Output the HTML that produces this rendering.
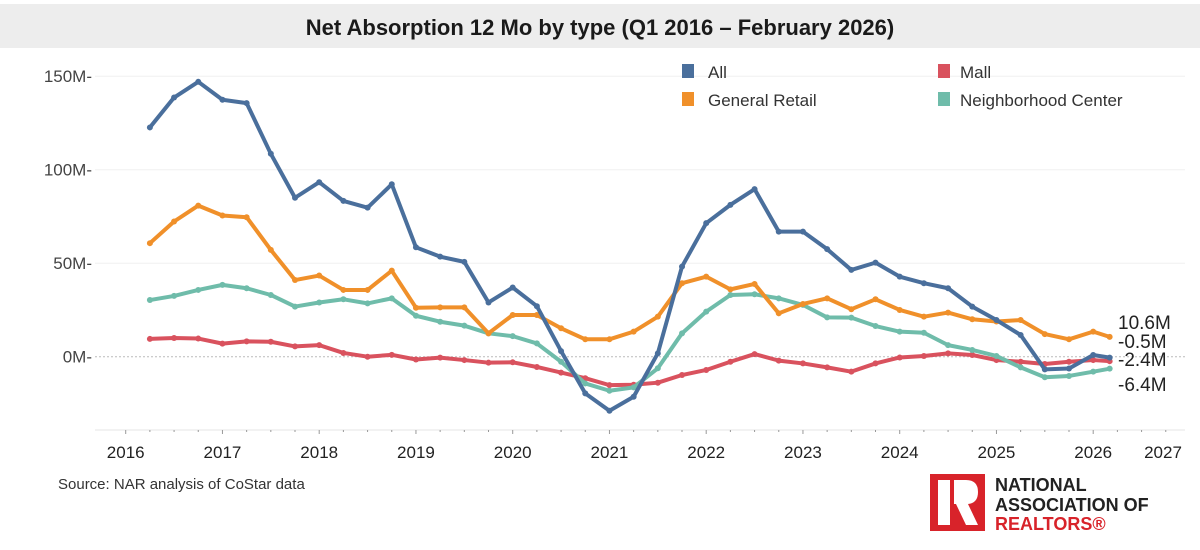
<!DOCTYPE html>
<html><head><meta charset="utf-8"><style>
body{margin:0;background:#fff;width:1200px;height:550px;overflow:hidden;font-family:"Liberation Sans",sans-serif}
svg{display:block}
</style></head><body>
<svg id="chart" width="1200" height="550">
<rect x="0" y="4" width="1200" height="44" fill="#ededed"/>
<text x="600" y="35" text-anchor="middle" font-size="22" font-weight="bold" fill="#1a1a1a">Net Absorption 12 Mo by type (Q1 2016 – February 2026)</text>
<g id="grid"></g><g id="axes"></g><g id="series"></g>
<g>
<rect x="682" y="64" width="12" height="14" fill="#4a6f9c"/>
<text x="708" y="78" font-size="17" fill="#333">All</text>
<rect x="682" y="92" width="12" height="14" fill="#f0902a"/>
<text x="708" y="106" font-size="17" fill="#333">General Retail</text>
<rect x="938" y="64" width="12" height="14" fill="#d9525e"/>
<text x="960" y="78" font-size="17" fill="#333">Mall</text>
<rect x="938" y="92" width="12" height="14" fill="#6fbcaa"/>
<text x="960" y="106" font-size="17" fill="#333">Neighborhood Center</text>
</g>
<g font-size="19" fill="#222">
<text x="1118" y="329">10.6M</text>
<text x="1118" y="348">-0.5M</text>
<text x="1118" y="366">-2.4M</text>
<text x="1118" y="391">-6.4M</text>
</g>
<text x="58" y="489" font-size="15" fill="#333">Source: NAR analysis of CoStar data</text>
<g>
<rect x="930" y="474" width="55" height="57" fill="#d8232a"/>
<rect x="938" y="480" width="12" height="45" fill="#fff"/>
<path d="M954 480 H966 Q978 480 978 492 Q978 503 968 504 L978 525 H966 L956 504 H954 Z" fill="#fff"/>
<text x="995" y="491" font-size="18" font-weight="bold" fill="#222">NATIONAL</text>
<text x="995" y="511" font-size="18" font-weight="bold" fill="#222">ASSOCIATION OF</text>
<text x="995" y="530" font-size="18" font-weight="bold" fill="#d8232a">REALTORS®</text>
</g>
</svg>
<script>
const ns="http://www.w3.org/2000/svg";
const yTicks=[0,50,100,150];
const yTickLabels=["0M","50M","100M","150M"];
const xYears=[2016,2017,2018,2019,2020,2021,2022,2023,2024,2025,2026];
const dates=[];for(let i=0;i<40;i++)dates.push(2016.25+0.25*i);dates.push(2026.17);
const allVals=[122.6,138.6,147,137.4,135.6,108.5,85,93.3,83.3,79.7,92.2,58.5,53.5,50.7,29,37,27,3,-19.6,-28.9,-21.4,1.8,48.2,71.4,81.2,89.6,66.9,66.9,57.5,46.4,50.3,42.8,39.3,36.6,26.8,19.6,11.6,-6.8,-6.3,0.9,-0.5];
const generalRetail=[60.7,72.3,80.8,75.5,74.6,57.1,41,43.4,35.7,35.7,46,26.2,26.4,26.4,12.5,22.3,22.3,15.2,9.3,9.3,13.4,21.4,39.3,42.8,36,38.9,23.2,28.2,31.2,25.4,30.7,25,21.4,23.6,20,18.8,19.6,12.1,9.3,13.4,10.6];
const mall=[9.5,10,9.7,7,8.2,8,5.5,6.2,2,0,1,-1.5,-0.5,-1.8,-3.2,-3,-5.5,-8.5,-11.5,-15.2,-15,-13.9,-9.8,-7.1,-2.7,1.4,-2.1,-3.6,-5.7,-8,-3.6,-0.4,0.4,1.8,0.9,-1.8,-2.7,-3.9,-2.7,-1.8,-2.4];
const neighborhood=[30.3,32.5,35.7,38.4,36.6,33,26.8,29,30.7,28.5,31.2,21.9,18.7,16.6,12.5,11,7.1,-2.7,-14.3,-18.2,-16.4,-6.2,12.5,24.1,33,33.4,31.2,27.7,21,20.9,16.4,13.4,12.8,6.2,3.6,0.4,-5.7,-11,-10.3,-8,-6.4];
const xs=d=>125.7+(d-2016)*96.75;
const ys=v=>356.7-v*1.87;
function mk(tag,attrs,parent){const e=document.createElementNS(ns,tag);for(const k in attrs)e.setAttribute(k,attrs[k]);parent.appendChild(e);return e;}
const grid=document.getElementById('grid'),axes=document.getElementById('axes'),ser=document.getElementById('series');
yTicks.forEach((t,i)=>{
 const l=mk('line',{x1:95,x2:1185,y1:ys(t),y2:ys(t),stroke:t===0?'#bbb':'#f0f0f0','stroke-width':1,'stroke-dasharray':t===0?'2,2':''},grid);
 
 
 const tx=mk('text',{x:92,y:ys(t)+6,'text-anchor':'end','font-size':17,fill:'#444'},axes);
 tx.textContent=yTickLabels[i]+"-";
 
 
});
const ax=mk('line',{x1:95,x2:1185,y1:430,y2:430,stroke:'#e4e4e4'},axes);


for(let q=2016;q<=2026.75;q+=0.25){const t=mk('line',{x1:xs(q),x2:xs(q),y1:430,y2:q%1===0?434:432,stroke:'#999'},axes);
 
 }
xYears.forEach(y=>{const t=mk('text',{x:xs(y),y:458,'text-anchor':'middle','font-size':17,fill:'#222'},axes);t.textContent=y;
 
 });
const t27=mk('text',{x:1163,y:458,'text-anchor':'middle','font-size':17,fill:'#222'},axes);t27.textContent="2027";


function drawSeries(vals,color,name){
 const g=mk('g',{},ser);
 
 
 const p=mk('polyline',{points:vals.map((v,i)=>xs(dates[i])+','+ys(v)).join(' '),fill:'none',stroke:color,'stroke-width':4,'stroke-linejoin':'round'},g);
 
 
 vals.forEach((v,i)=>{const c=mk('circle',{cx:xs(dates[i]),cy:ys(v),r:3,fill:color},g);
  
  });
}
drawSeries(mall,'#d9525e','series-mall');
drawSeries(neighborhood,'#6fbcaa','series-neighborhood-center');
drawSeries(generalRetail,'#f0902a','series-general-retail');
drawSeries(allVals,'#4a6f9c','series-all');
</script>
</body></html>
